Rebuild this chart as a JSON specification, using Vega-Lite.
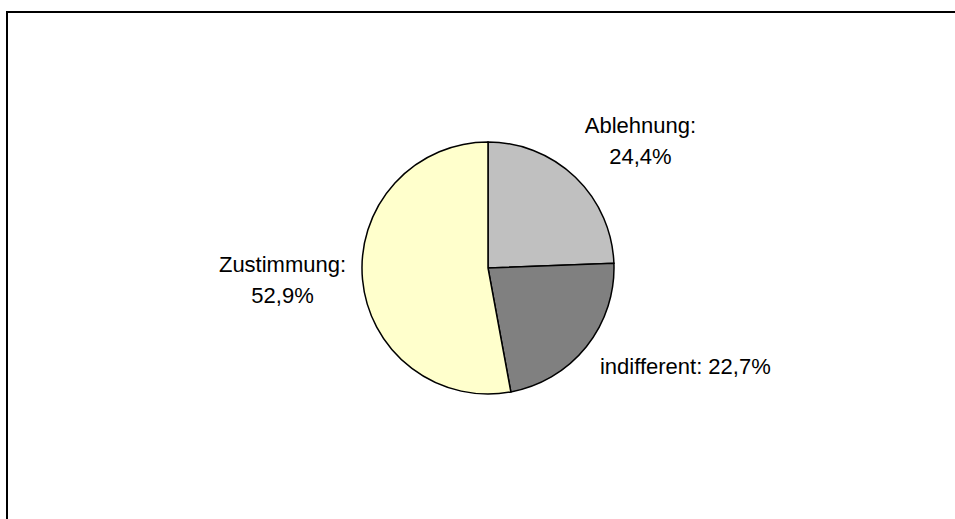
{
  "$schema": "https://vega.github.io/schema/vega-lite/v6.json",
  "autosize": "none",
  "width": 962,
  "height": 512,
  "padding": {"left": 7, "top": 12, "right": -14, "bottom": -5},
  "background": "white",
  "view": {"stroke": "black", "strokeWidth": 2, "fill": "white"},
  "config": {
    "text": {"font": "Liberation Sans", "fontSize": 22, "fill": "black", "lineHeight": 31}
  },
  "data": {
    "values": [
      {"cat": "Ablehnung", "value": 24.4, "rank": 1, "label": "Ablehnung:\n24,4%"},
      {"cat": "indifferent", "value": 22.7, "rank": 2, "label": "indifferent: 22,7%"},
      {"cat": "Zustimmung", "value": 52.9, "rank": 3, "label": "Zustimmung:\n52,9%"}
    ]
  },
  "encoding": {
    "theta": {"field": "value", "type": "quantitative", "stack": true},
    "order": {"field": "rank", "type": "quantitative"}
  },
  "layer": [
    {
      "mark": {"type": "arc", "outerRadius": 126, "stroke": "black", "strokeWidth": 1.5},
      "encoding": {
        "color": {
          "field": "cat",
          "type": "nominal",
          "scale": {"domain": ["Ablehnung", "indifferent", "Zustimmung"], "range": ["#C0C0C0", "#808080", "#FFFFCC"]},
          "legend": null
        }
      }
    },
    {
      "mark": {"type": "text", "radius": 126, "align": "center", "baseline": "middle", "lineBreak": "\n", "dx": 65, "dy": -51},
      "encoding": {
        "detail": {"field": "cat", "type": "nominal"},
        "text": {"condition": {"test": "datum.cat === 'Ablehnung'", "field": "label"}, "value": ""}
      }
    },
    {
      "mark": {"type": "text", "radius": 126, "align": "center", "baseline": "middle", "lineBreak": "\n", "dx": 99, "dy": 20},
      "encoding": {
        "detail": {"field": "cat", "type": "nominal"},
        "text": {"condition": {"test": "datum.cat === 'indifferent'", "field": "label"}, "value": ""}
      }
    },
    {
      "mark": {"type": "text", "radius": 126, "align": "center", "baseline": "middle", "lineBreak": "\n", "dx": -80, "dy": -14},
      "encoding": {
        "detail": {"field": "cat", "type": "nominal"},
        "text": {"condition": {"test": "datum.cat === 'Zustimmung'", "field": "label"}, "value": ""}
      }
    }
  ]
}
